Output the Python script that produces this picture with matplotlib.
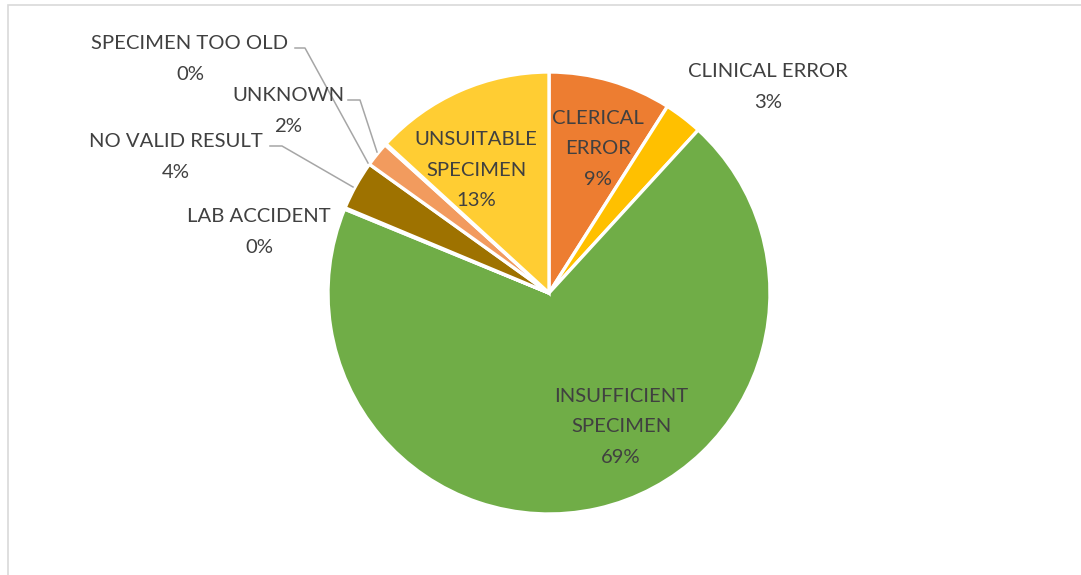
import matplotlib.pyplot as plt
from matplotlib.patches import Rectangle

# slice data (shares in %), clockwise from 12 o'clock
categories = ['CLERICAL\nERROR', 'CLINICAL ERROR', 'INSUFFICIENT\nSPECIMEN', 'LAB ACCIDENT',
              'NO VALID RESULT', 'UNKNOWN', 'SPECIMEN TOO OLD', 'UNSUITABLE\nSPECIMEN']
shares = [9.0, 2.8, 69.4, 0.1, 3.6, 1.8, 0.1, 13.2]
colors = ['#ED7D31', '#FFC000', '#70AD47', '#C55A11', '#9E7200', '#F29B5E', '#BF9000', '#FFCD33']

W, H = 1081, 575
cx, cy, R = 549, H - 293, 221
txt = '#404040'
lead = '#A6A6A6'

fig = plt.figure(figsize=(W / 100, H / 100), dpi=100)
ax = fig.add_axes([0, 0, 1, 1])

ax.pie(shares, colors=colors, startangle=90, counterclock=False, center=(cx, cy), radius=R,
       wedgeprops=dict(edgecolor='white', linewidth=2.4))

# pie() resets the limits, so put pixel coordinates back afterwards
ax.set_xlim(0, W)
ax.set_ylim(0, H)
ax.set_aspect('equal')
ax.axis('off')

ax.add_patch(Rectangle((7.5, -20), W + 20, H - 4.5 + 20, fill=False, edgecolor='#D9D9D9', lw=1.2))

pct = [f'{round(s)}%' for s in shares]
fnt = dict(family=['Lato', 'DejaVu Sans'], fontsize=14.6, color=txt, ha='center', va='center',
           linespacing=1.95)

# label positions in pixels (x, y from top)
pos = [(598, 149), (768, 87), (621, 427), (259, 232), (176, 157), (288, 111), (190, 59), (476, 170)]
for lab, p, (x, y) in zip(categories, pct, pos):
    ax.text(x, H - y, lab + '\n' + p, **fnt)

# leader lines
leaders = [
    [(295, 48), (305, 48), (368, 163)],
    [(348, 100), (360, 100), (377, 152)],
    [(270, 146), (282, 146), (353, 187)],
]
for pts in leaders:
    ax.plot([p[0] for p in pts], [H - p[1] for p in pts], color=lead, lw=1.1)

fig.savefig('out.png', dpi=100)
